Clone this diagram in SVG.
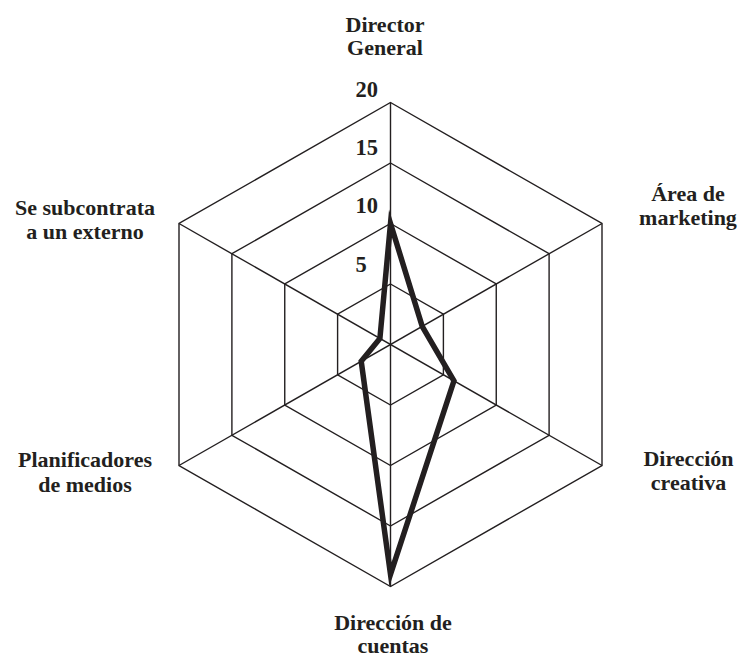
<svg xmlns="http://www.w3.org/2000/svg" width="741" height="657" viewBox="0 0 741 657">
  <style>
    .ring { fill: none; stroke: #231f20; stroke-width: 1.4; stroke-linejoin: miter; }
    .spoke { stroke: #231f20; stroke-width: 1.4; }
    .series { fill: none; stroke: #231f20; stroke-width: 5.5; stroke-linejoin: miter; stroke-miterlimit: 20; }
    .label { font-family: "Liberation Serif", "DejaVu Serif", serif; font-weight: bold; font-size: 22px; fill: #231f20; text-anchor: middle; }
    .tick { font-family: "Liberation Serif", "DejaVu Serif", serif; font-weight: bold; font-size: 22.5px; fill: #231f20; text-anchor: start; }
  </style>
  <rect width="741" height="657" fill="#ffffff"/>

  <!-- grid rings at 5, 10, 15, 20 -->
  <g id="grid">
    <polygon class="ring" points="390.5,284 443.4,314.25 443.4,374.75 390.5,405 337.6,374.75 337.6,314.25"/>
    <polygon class="ring" points="390.5,223.5 496.25,284 496.25,405 390.5,465.5 284.75,405 284.75,284"/>
    <polygon class="ring" points="390.5,163 549.1,253.75 549.1,435.25 390.5,526 231.9,435.25 231.9,253.75"/>
    <polygon class="ring" points="390.5,102.5 602,223.5 602,465.5 390.5,586.5 179,465.5 179,223.5"/>
  </g>

  <!-- axes -->
  <g id="connectors">
    <line class="spoke" x1="390.5" y1="102.5" x2="390.5" y2="586.5"/>
    <line class="spoke" x1="602" y1="223.5" x2="179" y2="465.5"/>
    <line class="spoke" x1="602" y1="465.5" x2="179" y2="223.5"/>
  </g>

  <!-- scale values -->
  <g id="scale">
    <text class="tick" x="355.5" y="97.3">20</text>
    <text class="tick" x="355.5" y="155">15</text>
    <text class="tick" x="355.5" y="213.3">10</text>
    <text class="tick" x="355.5" y="271.7">5</text>
  </g>

  <!-- data series -->
  <g id="series">
    <polygon class="series" points="390.5,223.5 422.2,326.35 453.95,380.8 390.5,574.4 361.2,361.2 379.9,338.45"/>
  </g>

  <!-- axis labels -->
  <g id="node-director-general">
    <text class="label" x="385" y="31.7">Director</text>
    <text class="label" x="385" y="55">General</text>
  </g>
  <g id="node-area-marketing">
    <text class="label" x="688" y="201">Área de</text>
    <text class="label" x="688" y="224.5">marketing</text>
  </g>
  <g id="node-direccion-creativa">
    <text class="label" x="688.5" y="465.7">Dirección</text>
    <text class="label" x="688.5" y="490">creativa</text>
  </g>
  <g id="node-direccion-cuentas">
    <text class="label" x="393" y="629.5">Dirección de</text>
    <text class="label" x="393" y="652.5">cuentas</text>
  </g>
  <g id="node-planificadores">
    <text class="label" x="85" y="466.7">Planificadores</text>
    <text class="label" x="85" y="491.7">de medios</text>
  </g>
  <g id="node-subcontrata">
    <text class="label" x="85" y="215">Se subcontrata</text>
    <text class="label" x="85" y="239.3">a un externo</text>
  </g>
</svg>
